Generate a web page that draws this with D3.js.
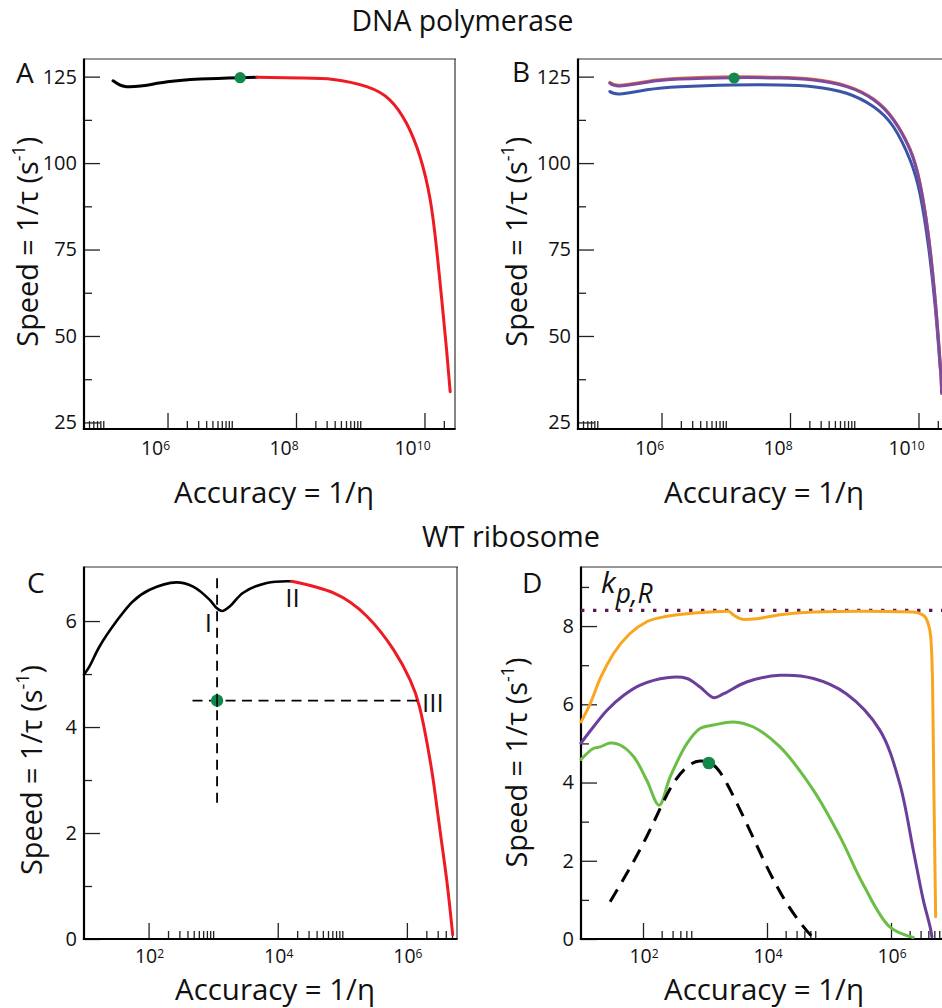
<!DOCTYPE html>
<html><head><meta charset="utf-8">
<script src="https://cdn.jsdelivr.net/npm/d3@7"></script>
<style>
body{margin:0;background:#fff}
svg{display:block}
text{font-family:"Open Sans","Noto Sans",sans-serif;fill:#111}
</style>
</head><body>
<svg id="chart" width="942" height="1008"></svg>
<script>
// ---------------- DATA ----------------
// DNA polymerase panels (accuracy, speed)
const polyA_black = [[1.42e5,123.8],[1.8e5,122.6],[2.3e5,122.1],[3.8e5,122.3],[1e6,123.5],[3.2e6,124.3],[1.35e7,124.7],[2.45e7,124.8]];
const polyA_red   = [[2.45e7,124.8],[1.15e8,124.6],[3.8e8,124.2],[1.26e9,122.1],[2.88e9,118.3],[5.25e9,111.5],[8.5e9,101.9],[1.23e10,89.3],[1.55e10,74.9],[1.86e10,60.4],[2.21e10,45.9],[2.51e10,33.9]];
const polyA_opt   = [1.35e7,124.7];
const polyB_purple= [[1.57e5,123.1],[2.24e5,122.3],[5.9e5,123.4],[1.93e6,124.3],[1.3e7,124.7],[6.9e7,124.6],[2.3e8,124.0],[7.6e8,122.1],[2.0e9,118.3],[4.07e9,112.5],[7.4e9,103.8],[1.05e10,94.2],[1.41e10,79.7],[1.82e10,60.4],[2.19e10,41.1],[2.29e10,33.4]];
const polyB_blue  = [[1.57e5,120.7],[2.24e5,120.0],[5.9e5,121.2],[1.93e6,122.1],[1.3e7,122.6],[6.9e7,122.6],[2.3e8,122.1],[7.6e8,120.2],[2.0e9,116.3],[4.07e9,110.5],[7.4e9,100.9],[1.05e10,91.3],[1.41e10,76.8],[1.82e10,58.5],[2.19e10,40.2]];
const polyB_opt   = [1.35e7,124.6];

// WT ribosome panels
const riboC_black = [[10,4.99],[12.1,5.14],[17.4,5.52],[31.6,5.99],[57,6.37],[104,6.59],[269,6.73],[490,6.65],[885,6.40],[1120,6.25],[1380,6.19],[1820,6.28],[2880,6.53],[6760,6.72],[16400,6.75]];
const riboC_red   = [[16400,6.75],[7.3e4,6.53],[2.4e5,6.09],[6.2e5,5.46],[1.13e6,4.88],[1.57e6,4.38],[2.05e6,3.70],[2.6e6,2.94],[3.3e6,2.0],[4.19e6,1.06],[5.12e6,0.08]];
const riboC_vDash = [[1150,2.57],[1150,6.87]];
const riboC_hDash = [[479,4.5],[1.66e6,4.5]];
const riboOpt     = [1150,4.5];
const riboD_orange= [[10,5.55],[14.1,6.02],[20.4,6.66],[33.5,7.30],[61.7,7.81],[115,8.11],[243,8.25],[741,8.34],[2400,8.38],[2880,8.28],[4170,8.17],[6920,8.19],[16200,8.29],[56200,8.36],[3.55e5,8.38],[2.29e6,8.36],[3.31e6,8.28],[3.98e6,8.06],[4.37e6,7.72],[4.68e6,6.53],[4.9e6,3.98],[5.25e6,0.57]];
const riboD_purple= [[10,5.01],[15.8,5.42],[26.3,5.85],[49,6.23],[90,6.49],[243,6.68],[513,6.66],[832,6.44],[1380,6.17],[2000,6.27],[4680,6.57],[16200,6.74],[56200,6.66],[1.9e5,6.27],[6.6e5,5.34],[1.38e6,3.98],[2.29e6,2.27],[3.31e6,1.0],[4.27e6,0.31],[4.57e6,0.06]];
const riboD_green = [[10,4.59],[15.8,4.87],[20.4,4.91],[29.5,5.01],[42.7,4.96],[70.8,4.66],[115,4.06],[182,3.42],[275,4.15],[513,5.0],[832,5.38],[1380,5.47],[2880,5.55],[6030,5.42],[16200,4.91],[56200,3.80],[1.51e5,2.61],[3.55e5,1.40],[9.55e5,0.31],[2.29e6,0.04]];
const riboD_dashed= [[29.5,0.95],[61.7,1.82],[115,2.62],[191,3.35],[309,3.98],[513,4.40],[832,4.55],[1380,4.44],[2240,3.98],[4680,2.955],[9930,1.85],[20900,0.91],[38900,0.31],[56200,0.02]];
const kpR = 8.40;

// axis ranges and ticks
const polyXDomain = [Math.pow(10,4.7), Math.pow(10,10.475)];
const polyYDomain = [23.1, 130.1];
const riboCXDomain = [10, Math.pow(10,6.776)];
const riboCYDomain = [0, 7.02];
const riboDXDomain = [10, 1e7];
const riboDYDomain = [0, 9.51];

const polyXMajor = [1e6,1e8,1e10];
const polyXMinor = [6e4,7e4,8e4,9e4,1e5, 2e6,3e6,4e6,5e6,6e6,7e6,8e6,9e6,1e7, 2e8,3e8,4e8,5e8,6e8,7e8,8e8,9e8,1e9, 2e10,3e10];
const polyYMajor = [25,50,75,100,125];
const polyYMinor = [37.5,62.5,87.5,112.5];
const riboXMajor = [1e2,1e4,1e6];
const riboCXMinor = [2e2,3e2,4e2,5e2,6e2,7e2,8e2,9e2,1e3, 2e4,3e4,4e4,5e4,6e4,7e4,8e4,9e4,1e5, 2e6,3e6,4e6,5e6,6e6];
const riboDXMinor = [2e2,3e2,4e2,5e2,6e2, 2e4,3e4,4e4,5e4,6e4, 2e6,3e6,4e6,5e6,6e6,7e6,8e6,9e6];
const riboCYMajor = [0,2,4,6];
const riboCYMinor = [1,3,5];
const riboDYMajor = [0,2,4,6,8];
const riboDYMinor = [1,3,5,7,9];

const titles = ["DNA polymerase","WT ribosome"];
const panelLetters = ["A","B","C","D"];
const romanLabels = ["I","II","III"];

// ---------------- DRAWING ----------------
const svg = d3.select("#chart");
const FONT = '"Open Sans","Noto Sans",sans-serif';
const C = {red:"#ED1C24", green:"#12894A", purpleB:"#7E4A9F", blue:"#3A55A6",
           orange:"#F9A51E", purpleD:"#6A3E9A", greenD:"#6BBE45", dotted:"#5C1A4E"};
const SMOOTH = d3.curveNatural, MONO = d3.curveMonotoneX, CUSP = d3.curveCatmullRom.alpha(0.5);

function fit(t, w){
  const fs = parseFloat(t.attr("font-size"));
  const len = t.node().getComputedTextLength();
  t.attr("font-size", (fs*w/len).toFixed(2));
}

function makePanel(box, xd, yd){
  const x = d3.scaleLog().domain(xd).range([box.l, box.r]);
  const y = d3.scaleLinear().domain(yd).range([box.b, box.t]);
  return {x, y, box};
}

function axes(p, xMaj, xMin, yMaj, yMin, labDx, labBase){
  const {x, y, box} = p;
  const inX = v => v >= x.domain()[0]*1.0001 && v <= x.domain()[1];
  const g = svg.append("g");
  const style = s => s.call(a=>a.select(".domain").remove())
                      .attr("color","#222")
                      .call(a=>a.selectAll("line").attr("stroke-width",1.3));
  g.append("g").attr("transform",`translate(0,${box.b})`)
    .call(d3.axisBottom(x).tickValues(xMin.filter(inX)).tickSize(-8).tickFormat("")).call(style);
  g.append("g").attr("transform",`translate(0,${box.b})`)
    .call(d3.axisBottom(x).tickValues(xMaj.filter(inX)).tickSize(-16).tickFormat("")).call(style);
  g.append("g").attr("transform",`translate(${box.l},0)`)
    .call(d3.axisLeft(y).tickValues(yMin).tickSize(-8).tickFormat("")).call(style);
  const ya = g.append("g").attr("transform",`translate(${box.l},0)`)
    .call(d3.axisLeft(y).tickValues(yMaj).tickSize(-16).tickPadding(7).tickFormat(d3.format("d"))).call(style);
  ya.attr("font-family",FONT).attr("font-size",20);
  ya.selectAll("text").attr("fill","#111");
  // frame
  g.append("line").attr("x1",box.l).attr("x2",box.r+1).attr("y1",box.t).attr("y2",box.t).attr("stroke","#333").attr("stroke-width",1.2);
  g.append("line").attr("x1",box.r).attr("x2",box.r).attr("y1",box.t).attr("y2",box.b).attr("stroke","#333").attr("stroke-width",1.2);
  g.append("line").attr("x1",box.l).attr("x2",box.l).attr("y1",box.t-0.6).attr("y2",box.b+1.1).attr("stroke","#000").attr("stroke-width",2.2);
  g.append("line").attr("x1",box.l-1.1).attr("x2",box.r+0.6).attr("y1",box.b).attr("y2",box.b).attr("stroke","#000").attr("stroke-width",2.2);
  // x tick labels 10^n
  xMaj.filter(inX).forEach(v=>{
    const t = g.append("text").attr("x",x(v)+labDx).attr("y",labBase)
      .attr("text-anchor","middle").attr("font-size",19.5);
    t.append("tspan").text("10");
    t.append("tspan").attr("font-size","0.62em").attr("dy","-0.45em").text(String(Math.round(Math.log10(v))));
  });
}

function curve(p, data, color, width, interp, dash){
  const line = d3.line().x(d=>p.x(d[0])).y(d=>p.y(d[1])).curve(interp);
  const path = svg.append("path").datum(data).attr("d",line)
    .attr("fill","none").attr("stroke",color).attr("stroke-width",width)
    .attr("stroke-linejoin","round").attr("stroke-linecap", dash ? "butt" : "round");
  if (dash) path.attr("stroke-dasharray",dash);
  return path;
}
function straight(p, data, color, width, dash, cap){
  svg.append("path").datum(data)
    .attr("d", d3.line().x(d=>p.x(d[0])).y(d=>p.y(d[1])))
    .attr("fill","none").attr("stroke",color).attr("stroke-width",width)
    .attr("stroke-dasharray",dash).attr("stroke-linecap",cap||"butt");
}
function dot(p, d, r){
  svg.append("circle").attr("cx",p.x(d[0])).attr("cy",p.y(d[1])).attr("r",r).attr("fill",C.green);
}
function yLabel(xb, yc){
  const t = svg.append("text").attr("transform",`translate(${xb},${yc}) rotate(-90)`)
    .attr("text-anchor","middle").attr("font-size",30);
  t.append("tspan").text("Speed = 1/τ (s");
  t.append("tspan").attr("font-size","0.62em").attr("dy","-0.7em").text("-1");
  t.append("tspan").attr("dy","0.434em").text(")");
  fit(t, 210);
}
function xLabel(xc, yb){
  const t = svg.append("text").attr("x",xc).attr("y",yb).attr("text-anchor","middle").attr("font-size",30)
    .text("Accuracy = 1/η");
  fit(t, 200);
}
function letter(s, x, yb){
  svg.append("text").attr("x",x).attr("y",yb).attr("font-size",28).text(s);
}

// Titles
const t1 = svg.append("text").attr("x",462.5).attr("y",30.5).attr("text-anchor","middle").attr("font-size",28).text(titles[0]);
fit(t1, 222);
const t2 = svg.append("text").attr("x",511).attr("y",546.5).attr("text-anchor","middle").attr("font-size",28).text(titles[1]);
fit(t2, 178);

// Panel A
const pA = makePanel({l:84,r:455,t:59,b:429}, polyXDomain, polyYDomain);
axes(pA, polyXMajor, polyXMinor, polyYMajor, polyYMinor, -12, 455);
curve(pA, polyA_black, "#000", 3, SMOOTH);
curve(pA, polyA_red, C.red, 3, SMOOTH);
dot(pA, polyA_opt, 5.6);
yLabel(38, 241.7); xLabel(274, 503); letter(panelLetters[0], 16, 83);

// Panel B
const pB = makePanel({l:578,r:949,t:59,b:429}, polyXDomain, polyYDomain);
axes(pB, polyXMajor, polyXMinor, polyYMajor, polyYMinor, -12, 455);
curve(pB, polyB_blue, C.blue, 3, SMOOTH);
curve(pB, polyB_purple, "#E8703A", 3, SMOOTH).attr("transform","translate(0,-0.8)");
curve(pB, polyB_purple, C.purpleB, 3, SMOOTH);
dot(pB, polyB_opt, 5.6);
yLabel(526.5, 241.7); xLabel(764, 503); letter(panelLetters[1], 512, 82);

// Panel C
const pC = makePanel({l:84,r:457,t:567,b:939}, riboCXDomain, riboCYDomain);
axes(pC, riboXMajor, riboCXMinor, riboCYMajor, riboCYMinor, 1, 963);
curve(pC, riboC_black, "#000", 2.6, CUSP);
curve(pC, riboC_red, C.red, 3, SMOOTH);
straight(pC, riboC_vDash, "#000", 1.8, "10,6.5");
straight(pC, riboC_hDash, "#000", 1.8, "10,6.5");
dot(pC, riboOpt, 6.2);
straight(pC, [[riboOpt[0],4.5-0.12],[riboOpt[0],4.5+0.12]], "#000", 1.5, null);
svg.append("text").attr("x",pC.x(1150)-5).attr("y",631.5).attr("text-anchor","end").attr("font-size",26).text(romanLabels[0]);
svg.append("text").attr("x",pC.x(16400)+1).attr("y",606.5).attr("text-anchor","middle").attr("font-size",26).text(romanLabels[1]);
svg.append("text").attr("x",pC.x(1.66e6)+1).attr("y",711.5).attr("text-anchor","start").attr("font-size",26).text(romanLabels[2]);
yLabel(41.5, 770); xLabel(275, 1000); letter(panelLetters[2], 27, 593);

// Panel D
const pD = makePanel({l:581,r:953,t:567,b:939}, riboDXDomain, riboDYDomain);
axes(pD, riboXMajor, riboDXMinor, riboDYMajor, riboDYMinor, 1, 963);
straight(pD, [[riboDXDomain[0], kpR],[riboDXDomain[1], kpR]], C.dotted, 3.4, "3.4,8.6");
curve(pD, riboD_orange, C.orange, 3, MONO);
curve(pD, riboD_purple, C.purpleD, 3, CUSP);
curve(pD, riboD_green, C.greenD, 3, CUSP);
curve(pD, riboD_dashed, "#000", 3, SMOOTH, "14,9");
dot(pD, riboOpt, 6.3);
const kt = svg.append("text").attr("x",601).attr("y",593).attr("font-family",'"Liberation Serif","DejaVu Serif",serif')
  .attr("font-style","italic").attr("font-size",30);
kt.append("tspan").text("k");
kt.append("tspan").attr("font-size","0.88em").attr("dy","0.36em").text("p,R");
yLabel(526.5, 762.5); xLabel(764, 1000); letter(panelLetters[3], 522, 593);
</script>
</body></html>
